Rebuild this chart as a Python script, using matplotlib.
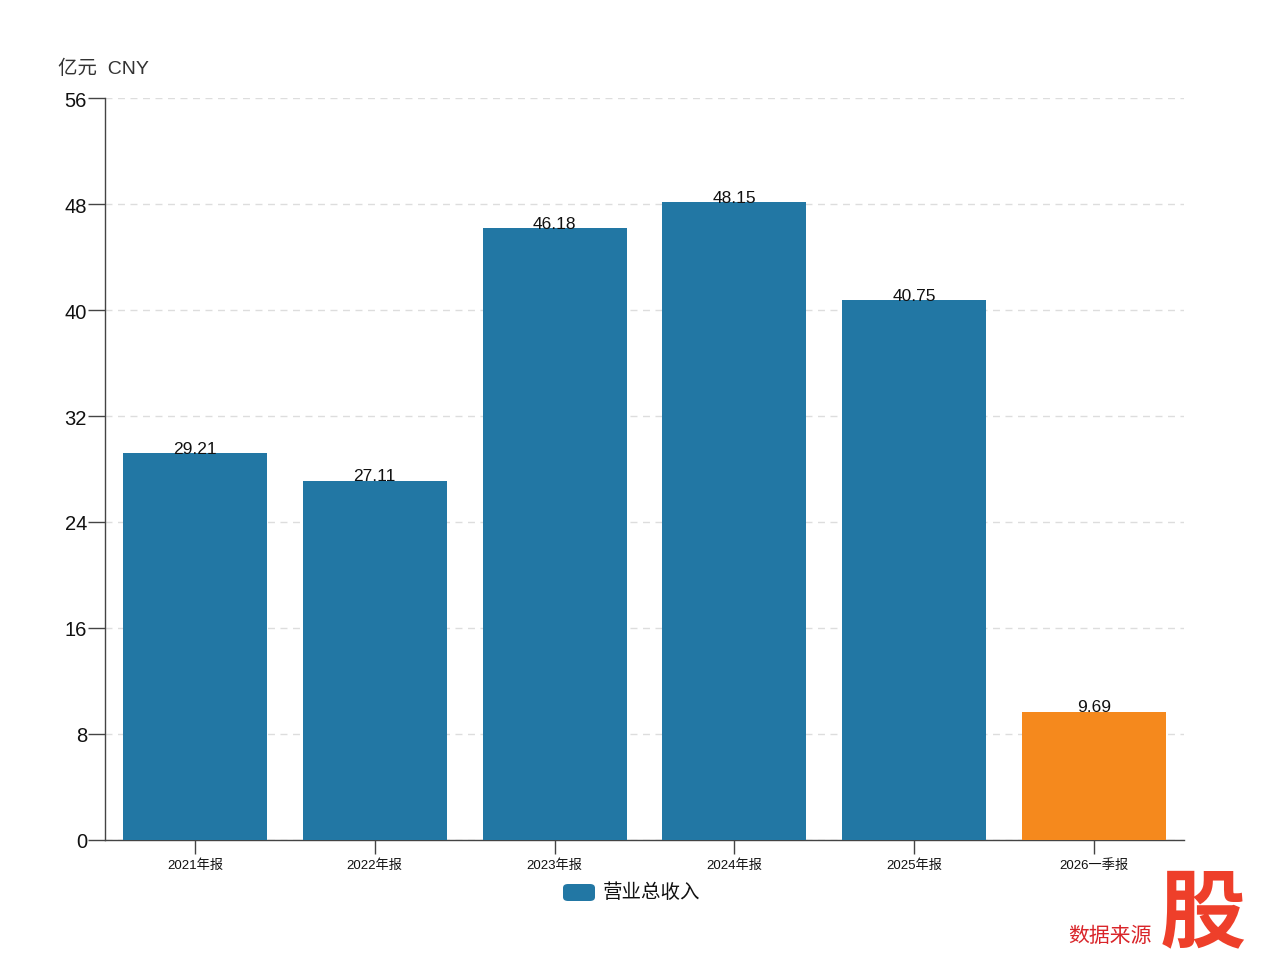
import matplotlib
matplotlib.use("Agg")
import matplotlib.pyplot as plt
from matplotlib.patches import FancyBboxPatch

plt.rcParams['font.family'] = ['Liberation Sans', 'Noto Sans CJK SC', 'DejaVu Sans']

categories = ["2021年报", "2022年报", "2023年报", "2024年报", "2025年报", "2026一季报"]
values = [29.21, 27.11, 46.18, 48.15, 40.75, 9.69]
bar_colors = ["#2277a4", "#2277a4", "#2277a4", "#2277a4", "#2277a4", "#f5891d"]
y_ticks = [0, 8, 16, 24, 32, 40, 48, 56]
series_name = "营业总收入"
unit_label = "亿元  CNY"

fig = plt.figure(figsize=(12.67, 9.70), dpi=100)
ax = fig.add_axes([105/1267, 1-841/970, (1184-105)/1267, (841-99)/970])

x = list(range(len(categories)))
bars = ax.bar(x, values, width=0.8, color=bar_colors, zorder=3)
for xi, v in zip(x, values):
    ax.text(xi, v - 0.2, f"{v:.2f}", ha="center", va="bottom", fontsize=12.5, color="#111111", zorder=4)

ax.set_xlim(-0.5, len(categories) - 0.5)
ax.set_ylim(0, 56)
ax.set_yticks(y_ticks)
ax.set_yticklabels([str(t) for t in y_ticks], fontsize=14.5, color="#111111")
ax.set_xticks(x)
ax.set_xticklabels(categories, fontsize=9.5, color="#111111")
ax.tick_params(axis="y", length=12, width=1, color="#444444", pad=1)
ax.tick_params(axis="x", length=10, width=1, color="#444444", pad=3)
ax.grid(axis="y", linestyle=(0, (5, 4)), color="#dddddd", linewidth=1, zorder=0)
for s in ["top", "right"]:
    ax.spines[s].set_visible(False)
for s in ["left", "bottom"]:
    ax.spines[s].set_color("#444444")
    ax.spines[s].set_linewidth(1)

fig.text(58/1267, 1-69/970, unit_label, fontsize=14, color="#333333", ha="left", va="center")

# legend
patch = FancyBboxPatch((563/1267, 1-902/970), 32/1267, 17/970,
                       boxstyle="round,pad=0,rounding_size=0.004",
                       transform=fig.transFigure, facecolor="#2277a4", edgecolor="none")
fig.add_artist(patch)
fig.text(603/1267, 1-893/970, series_name, fontsize=14, color="#111111", ha="left", va="center")

# watermark
fig.text(1068/1267, 1-936/970, "数据来源", fontsize=15, color="#d9252a", ha="left", va="center")
fig.text(1203/1267, 1-918/970, "股", fontsize=62, color="#ee3f2a", ha="center", va="center",
         fontweight="bold", style="italic")

fig.savefig("out.png", dpi=100)
